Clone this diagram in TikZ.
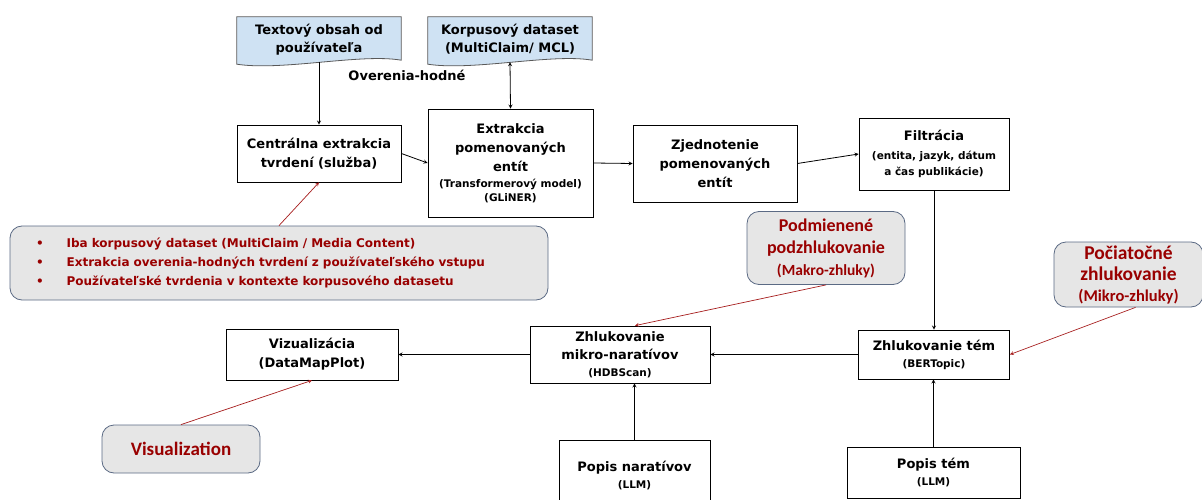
\documentclass[tikz,border=0pt]{standalone}
\usepackage{fontspec}
\setmainfont{DejaVu Sans}
\newfontfamily\notefont{Carlito}
\usetikzlibrary{arrows, backgrounds, positioning}

\definecolor{docblue}{HTML}{CFE2F3}
\definecolor{docline}{HTML}{595959}
\definecolor{notefill}{HTML}{E6E6E6}
\definecolor{noteline}{HTML}{5B6A84}
\definecolor{notered}{HTML}{990000}
\definecolor{linkred}{HTML}{A61C1C}

\newcommand{\detail}[1]{{\fontsize{10.5}{14}\selectfont #1}}
\newcommand{\docoutline}[1]{%
  \draw[docline, fill=docblue, line width=0.8pt] (#1.north west) -- (#1.north east)
    -- ([yshift=2pt]#1.south east) .. controls +(-40,-7) and +(45,7) .. ([yshift=-2pt]#1.south west) -- cycle;}

\tikzset{
  stage/.style={draw, line width=0.8pt, align=center, inner sep=0pt, font=\bfseries\fontsize{13}{19}\selectfont},
  source/.style={align=center, inner sep=0pt, font=\bfseries\fontsize{13}{18}\selectfont},
  note/.style={draw=noteline, fill=notefill, line width=0.8pt, rounded corners=12pt, align=center, inner sep=0pt, text=notered},
  flow/.style={->, line width=0.8pt},
  hint/.style={->, line width=0.7pt, linkred},
}

\begin{document}
\begin{tikzpicture}[>=stealth, x=1pt, y=-1pt]
\useasboundingbox (0,0) rectangle (1202,500);
\clip (0,0) rectangle (1202,500);
%
\node[source, minimum width=164, minimum height=45] (userdoc) at (319,39.5) {Textový obsah od\\používateľa};
\node[source, minimum width=164, minimum height=45] (corpus) at (510,39.5) {Korpusový dataset\\(MultiClaim/ MCL)};
\begin{pgfonlayer}{background}
\docoutline{userdoc}
\docoutline{corpus}
\end{pgfonlayer}
\node[source] (worthy) at (407,75) {Overenia-hodné};
%
\node[stage, minimum width=164, minimum height=57] (claims) at (319,153.5) {Centrálna extrakcia\\tvrdení (služba)};
\node[stage, minimum width=165, minimum height=108] (ner) at (510.5,163) {Extrakcia\\pomenovaných\\entít\\[-3pt]\detail{(Transformerový model)}\\[-5pt]\detail{(GLiNER)}};
\node[stage, minimum width=164, minimum height=77] (linking) at (715,163.5) {Zjednotenie\\pomenovaných\\entít};
\node[stage, minimum width=150, minimum height=72] (filter) at (934,154) {Filtrácia\\\detail{(entita, jazyk, dátum}\\[-3pt]\detail{a čas publikácie)}};
%
\node[stage, minimum width=151, minimum height=49] (topics) at (934,354.5) {Zhlukovanie tém\\[-2pt]\detail{(BERTopic)}};
\node[stage, minimum width=180, minimum height=57] (narr) at (620,354.5) {Zhlukovanie\\[-1pt]mikro-naratívov\\[-2pt]\detail{(HDBScan)}};
\node[stage, minimum width=172, minimum height=51] (viz) at (312,354.5) {Vizualizácia\\(DataMapPlot)};
\node[stage, minimum width=151, minimum height=70] (narrdesc) at (634.5,475) {Popis naratívov\\[-2pt]\detail{(LLM)}};
\node[stage, minimum width=173, minimum height=51] (topicdesc) at (933.5,472.5) {Popis tém\\[-2pt]\detail{(LLM)}};
%
\node[note, text width=486, inner xsep=26, minimum height=74, align=left, font=\rmfamily\bfseries\fontsize{12}{19}\selectfont] (scope) at (279,263) {%
\begin{tabular}{@{}l@{\hspace{23pt}}l@{}}
\textbullet & Iba korpusový dataset (MultiClaim / Media Content)\\
\textbullet & Extrakcia overenia-hodných tvrdení z používateľského vstupu\\
\textbullet & Používateľské tvrdenia v kontexte korpusového datasetu
\end{tabular}};
\node[note, minimum width=158, minimum height=73, font=\notefont\bfseries\fontsize{18}{22}\selectfont] (macro) at (826,248) {Podmienené\\podzhlukovanie\\{\fontsize{15.5}{18}\selectfont(Makro-zhluky)}};
\node[note, minimum width=149, minimum height=65, font=\notefont\bfseries\fontsize{19.5}{21}\selectfont] (micro) at (1128.5,274.5) {Počiatočné\\zhlukovanie\\{\fontsize{16.5}{18}\selectfont(Mikro-zhluky)}};
\node[note, minimum width=158, minimum height=48, font=\notefont\bfseries\fontsize{19}{22}\selectfont] (visnote) at (181,449) {Visualization};
%
\draw[flow] (userdoc.south) -- (claims.north);
\draw[flow, <->] (corpus.south) -- (ner.north);
\draw[flow] (claims.east) -- (ner.west);
\draw[flow] (ner.east) -- (linking.west);
\draw[flow] (linking.east) -- (filter.west);
\draw[flow] (filter.south) -- (topics.north);
\draw[flow] (topics.west) -- (narr.east);
\draw[flow] (narr.west) -- (viz.east);
\draw[flow] (narrdesc.north) -- (narrdesc.north |- narr.south);
\draw[flow] (topicdesc.north) -- (topicdesc.north |- topics.south);
%
\draw[hint] (scope.north) -- (claims.south);
\draw[hint] (macro.south) -- ([xshift=15pt]narr.north);
\draw[hint] ([xshift=7pt]micro.south) -- (topics.east);
\draw[hint] (visnote.north) -- (viz.south);
\end{tikzpicture}
\end{document}
